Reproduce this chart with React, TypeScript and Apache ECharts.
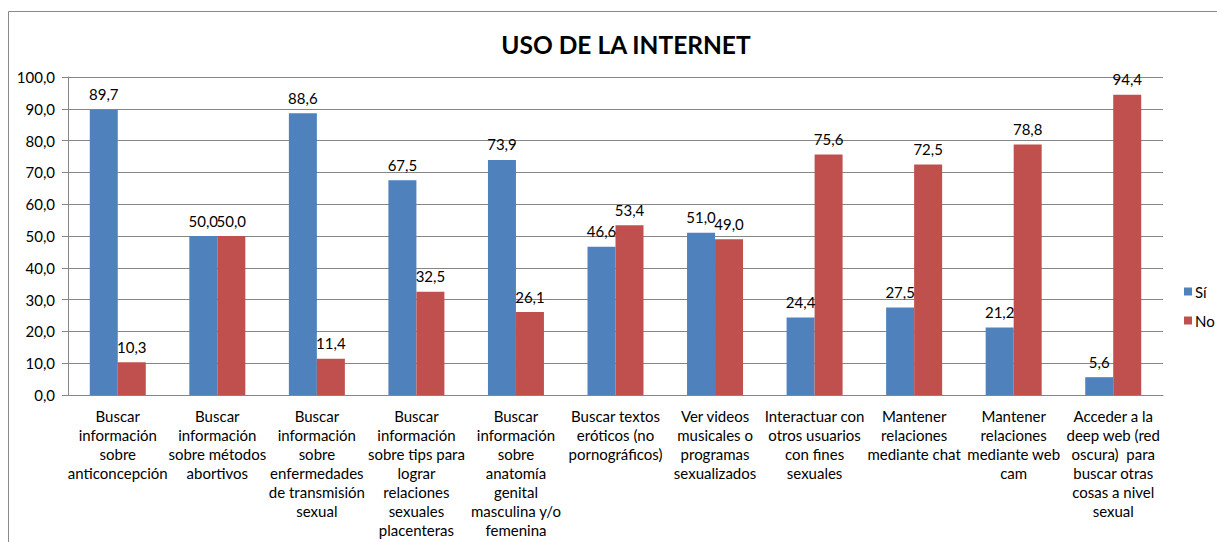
import React, { useEffect, useRef } from "react";
import * as echarts from "echarts";

const title = "USO DE LA INTERNET";
const categories = [
  "Buscar\ninformación\nsobre\nanticoncepción",
  "Buscar\ninformación\nsobre métodos\nabortivos",
  "Buscar\ninformación\nsobre\nenfermedades\nde transmisión\nsexual",
  "Buscar\ninformación\nsobre tips para\nlograr\nrelaciones\nsexuales\nplacenteras",
  "Buscar\ninformación\nsobre\nanatomía\ngenital\nmasculina y/o\nfemenina",
  "Buscar textos\neróticos (no\npornográficos)",
  "Ver videos\nmusicales o\nprogramas\nsexualizados",
  "Interactuar con\notros usuarios\ncon fines\nsexuales",
  "Mantener\nrelaciones\nmediante chat",
  "Mantener\nrelaciones\nmediante web\ncam",
  "Acceder a la\ndeep web (red\noscura)  para\nbuscar otras\ncosas a nivel\nsexual",
];
const siValues = [89.7, 50.0, 88.6, 67.5, 73.9, 46.6, 51.0, 24.4, 27.5, 21.2, 5.6];
const noValues = [10.3, 50.0, 11.4, 32.5, 26.1, 53.4, 49.0, 75.6, 72.5, 78.8, 94.4];
const seriesNames = ["Sí", "No"];

const FONT = "Lato, 'Open Sans', sans-serif";
const fmt = (v: number) => v.toFixed(1).replace(".", ",");

export default function App() {
  const ref = useRef<HTMLDivElement>(null);
  useEffect(() => {
    document.body.style.margin = "0";
    const chart = echarts.init(ref.current!, null, { renderer: "svg" });
    const labelStyle = {
      show: true,
      position: "top" as const,
      color: "#000",
      fontFamily: FONT,
      fontSize: 15,
      distance: 8,
      formatter: (p: any) => fmt(p.value),
    };
    chart.setOption({
      animation: false,
      backgroundColor: "#fff",
      title: {
        text: title,
        left: 621,
        textAlign: "center",
        top: 27,
        textStyle: { fontFamily: FONT, fontSize: 24.5, fontWeight: "bold", color: "#000" },
      },
      legend: {
        orient: "vertical",
        left: 1179,
        top: 279,
        itemWidth: 8,
        itemHeight: 8,
        itemGap: 14,
        icon: "rect",
        textStyle: { fontFamily: FONT, fontSize: 15, color: "#000", padding: [0, 0, 0, -2] },
        data: seriesNames,
      },
      graphic: [
        {
          type: "rect",
          shape: { x: 8.5, y: 11.5, width: 1240, height: 560 },
          style: { fill: "none", stroke: "#8a8a8a", lineWidth: 1 },
          silent: true,
        },
      ],
      grid: { left: 68, right: 54, top: 77, bottom: 147, containLabel: false },
      xAxis: {
        type: "category",
        data: categories,
        axisLine: { lineStyle: { color: "#868686" } },
        axisTick: { show: false },
        axisLabel: {
          interval: 0,
          color: "#000",
          fontFamily: FONT,
          fontSize: 15,
          lineHeight: 19,
          margin: 11,
          align: "center",
          verticalAlign: "top",
        },
      },
      yAxis: {
        type: "value",
        min: 0,
        max: 100,
        interval: 10,
        axisLine: { show: true, lineStyle: { color: "#868686" } },
        axisTick: { show: true, length: 6, lineStyle: { color: "#868686" } },
        splitLine: { lineStyle: { color: "#868686" } },
        axisLabel: {
          color: "#000",
          fontFamily: FONT,
          fontSize: 15,
          margin: 13,
          formatter: (v: number) => fmt(v),
        },
      },
      series: [
        {
          name: seriesNames[0],
          type: "bar",
          data: siValues,
          barWidth: 28,
          barGap: "0%",
          itemStyle: { color: "#4F81BD" },
          label: labelStyle,
        },
        {
          name: seriesNames[1],
          type: "bar",
          data: noValues,
          barWidth: 28,
          barGap: "0%",
          itemStyle: { color: "#C0504D" },
          label: labelStyle,
        },
      ],
    });
    return () => chart.dispose();
  }, []);
  return <div ref={ref} style={{ width: 1217, height: 542 }} />;
}
